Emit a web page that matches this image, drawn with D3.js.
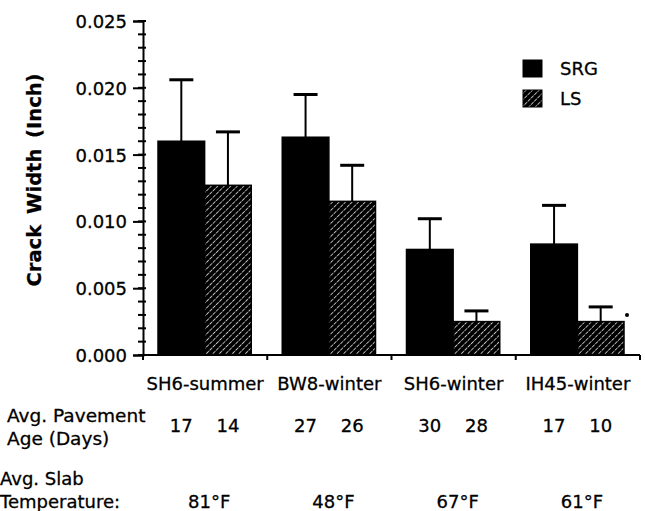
<!DOCTYPE html>
<html>
<head>
    <meta charset="utf-8">
    <style>
        body {
            margin: 0;
            background-color: white;
        }
        text {
            font-family: "DejaVu Sans", sans-serif;
            fill: black;
            stroke: black;
            stroke-width: 0.3px;
        }
    </style>
</head>
<body>
    <div id="chart"></div>
    <script src="https://cdn.jsdelivr.net/npm/d3@7"></script>
    <script>
        const sites = ["SH6-summer", "BW8-winter", "SH6-winter", "IH45-winter"];
        const series = ["SRG", "LS"];
        const srgWidth = [0.0160, 0.0163, 0.0079, 0.0083];
        const srgSd = [0.0046, 0.0032, 0.0023, 0.0029];
        const lsWidth = [0.0127, 0.0115, 0.0025, 0.0025];
        const lsSd = [0.0040, 0.0027, 0.0008, 0.0011];
        const srgAge = [17, 27, 30, 17];
        const lsAge = [14, 26, 28, 10];
        const slabTemp = [81, 48, 67, 61];
        const yTicks = [0, 0.005, 0.010, 0.015, 0.020, 0.025];

        const width = 645;
        const height = 511;
        const margin = { top: 21, right: 5, bottom: 156, left: 143 };

        const svg = d3.select("#chart").append("svg")
            .attr("width", width)
            .attr("height", height);

        const defs = svg.append("defs");
        const hatch = defs.append("pattern")
            .attr("id", "hatch")
            .attr("patternUnits", "userSpaceOnUse")
            .attr("width", 4.6)
            .attr("height", 4.6)
            .attr("patternTransform", "rotate(45)");
        hatch.append("rect").attr("width", 4.6).attr("height", 4.6).attr("fill", "black");
        hatch.append("line")
            .attr("x1", 0).attr("y1", 0).attr("x2", 0).attr("y2", 4.6)
            .attr("stroke", "white").attr("stroke-width", 1.4)
            .attr("stroke-dasharray", "3,1");

        const x0 = d3.scaleBand()
            .domain(sites)
            .range([margin.left, width - margin.right]);

        const x1 = d3.scaleBand()
            .domain(series)
            .range([15, x0.bandwidth() - 16]);

        const y = d3.scaleLinear()
            .domain([0, 0.025])
            .range([height - margin.bottom, margin.top]);

        const fills = { SRG: "black", LS: "url(#hatch)" };

        const rows = sites.map((s, i) => ({
            site: s,
            vals: [
                { key: "SRG", v: srgWidth[i], sd: srgSd[i], age: srgAge[i] },
                { key: "LS", v: lsWidth[i], sd: lsSd[i], age: lsAge[i] }
            ]
        }));

        // y axis
        const yAxis = svg.append("g")
            .attr("transform", `translate(${margin.left},0)`)
            .call(d3.axisLeft(y).tickValues(yTicks).tickFormat(d3.format(".3f")).tickSize(10).tickPadding(6));
        yAxis.select(".domain").attr("stroke-width", 2);
        yAxis.selectAll(".tick line").attr("stroke-width", 2);
        yAxis.selectAll("text").style("font-size", "18px").attr("dy", "0.36em");

        // minor ticks
        svg.append("g").selectAll("line")
            .data(d3.range(0, 0.0251, 0.001))
            .enter()
            .append("line")
            .attr("x1", margin.left - 5)
            .attr("x2", margin.left + 3)
            .attr("y1", d => y(d))
            .attr("y2", d => y(d))
            .attr("stroke", "black")
            .attr("stroke-width", 2);

        // bars
        const groups = svg.selectAll(".group")
            .data(rows)
            .enter()
            .append("g")
            .attr("class", "group")
            .attr("transform", d => `translate(${x0(d.site)},0)`);

        // error bars (upper only)
        groups.selectAll(".err")
            .data(d => d.vals)
            .enter()
            .append("line")
            .attr("x1", d => x1(d.key) + x1.bandwidth() / 2)
            .attr("x2", d => x1(d.key) + x1.bandwidth() / 2)
            .attr("y1", d => y(d.v))
            .attr("y2", d => y(d.v + d.sd))
            .attr("stroke", "black")
            .attr("stroke-width", 2);

        groups.selectAll(".cap")
            .data(d => d.vals)
            .enter()
            .append("line")
            .attr("x1", d => x1(d.key) + x1.bandwidth() / 2 - 12)
            .attr("x2", d => x1(d.key) + x1.bandwidth() / 2 + 12)
            .attr("y1", d => y(d.v + d.sd))
            .attr("y2", d => y(d.v + d.sd))
            .attr("stroke", "black")
            .attr("stroke-width", 3);

        groups.selectAll(".bar")
            .data(d => d.vals)
            .enter()
            .append("rect")
            .attr("class", "bar")
            .attr("x", d => x1(d.key))
            .attr("width", x1.bandwidth())
            .attr("y", d => y(d.v))
            .attr("height", d => y(0) - y(d.v))
            .attr("fill", d => fills[d.key])
            .attr("stroke", "black")
            .attr("stroke-width", 1.5);

        // x axis
        const xAxis = svg.append("g")
            .attr("transform", `translate(0,${y(0)})`);
        xAxis.append("line")
            .attr("x1", margin.left).attr("x2", width - margin.right)
            .attr("stroke", "black").attr("stroke-width", 2);
        xAxis.selectAll(".xt")
            .data(sites.map(s => x0(s)).concat([x0.range()[1]]))
            .enter()
            .append("line")
            .attr("x1", d => d).attr("x2", d => d)
            .attr("y1", 0).attr("y2", 5)
            .attr("stroke", "black").attr("stroke-width", 2);

        // small dot beside IH45 LS
        svg.append("circle")
            .attr("cx", x0("IH45-winter") + x1("LS") + x1.bandwidth() + 3)
            .attr("cy", y(0.0030))
            .attr("r", 2)
            .attr("fill", "black");

        // category labels
        svg.selectAll(".cat")
            .data(sites)
            .enter()
            .append("text")
            .attr("x", d => x0(d) + x0.bandwidth() / 2)
            .attr("y", 390)
            .attr("text-anchor", "middle")
            .style("font-size", "18px")
            .text(d => d);

        // ages
        svg.append("text").attr("x", 7).attr("y", 422).style("font-size", "18.5px").text("Avg. Pavement");
        svg.append("text").attr("x", 7).attr("y", 445).style("font-size", "18.5px").text("Age (Days)");

        groups.selectAll(".age")
            .data(d => d.vals)
            .enter()
            .append("text")
            .attr("x", d => x1(d.key) + x1.bandwidth() / 2)
            .attr("y", 432)
            .attr("text-anchor", "middle")
            .style("font-size", "18px")
            .text(d => d.age);

        // slab temperature
        svg.append("text").attr("x", 0).attr("y", 485).style("font-size", "18px").text("Avg. Slab");
        svg.append("text").attr("x", 0).attr("y", 508).style("font-size", "18px").text("Temperature:");

        svg.selectAll(".temp")
            .data(slabTemp)
            .enter()
            .append("text")
            .attr("x", (d, i) => x0(sites[i]) + x0.bandwidth() / 2 + 4)
            .attr("y", 508)
            .attr("text-anchor", "middle")
            .style("font-size", "18px")
            .text(d => d + "°F");

        // y label
        svg.append("text")
            .attr("transform", `translate(41,180) rotate(-90)`)
            .attr("text-anchor", "middle")
            .style("font-size", "19.5px")
            .style("font-weight", "bold")
            .style("word-spacing", "4px")
            .text("Crack Width (Inch)");

        // legend
        const legend = svg.append("g").attr("transform", "translate(523,60)");
        legend.selectAll("rect")
            .data(series)
            .enter()
            .append("rect")
            .attr("x", 0)
            .attr("y", (d, i) => i * 30)
            .attr("width", 19)
            .attr("height", 17)
            .attr("fill", d => fills[d])
            .attr("stroke", "black");
        legend.selectAll("text")
            .data(series)
            .enter()
            .append("text")
            .attr("x", 37)
            .attr("y", (d, i) => 15 + i * 30)
            .style("font-size", "18px")
            .text(d => d);
    </script>
</body>
</html>
